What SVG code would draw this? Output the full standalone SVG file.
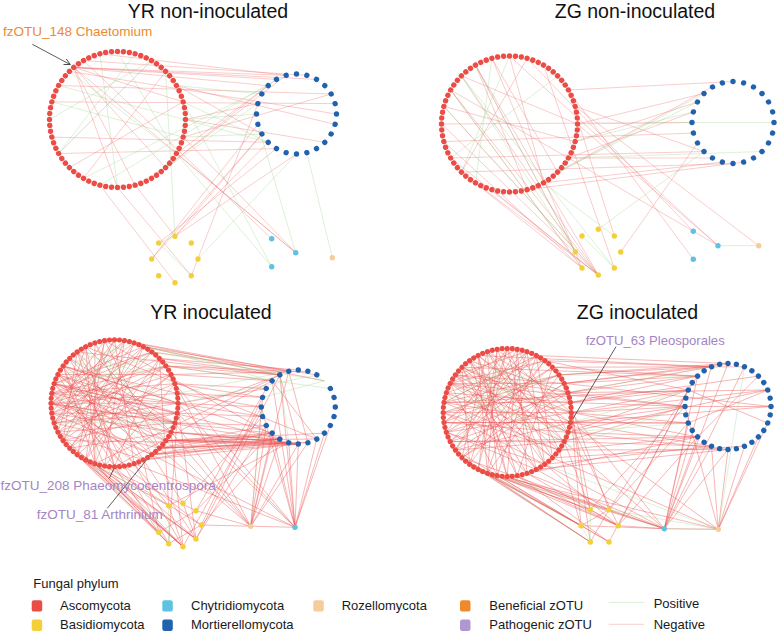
<svg xmlns="http://www.w3.org/2000/svg" xmlns:xlink="http://www.w3.org/1999/xlink" width="777" height="633" viewBox="0 0 777 633">
<style>
text{font-family:"Liberation Sans",Arial,Helvetica,sans-serif}
.title{font-size:19.5px;fill:#111;text-anchor:middle}
.lab{font-size:13.5px}
.leg{font-size:13px;fill:#1a1a1a}
.neg path{stroke:#EE6464;stroke-width:.65;stroke-opacity:.5;fill:none}
.pos path{stroke:#8CCB7A;stroke-width:.65;stroke-opacity:.45;fill:none}
.dense .neg path{stroke:#EC5050;stroke-opacity:.6;stroke-width:.7}
.lead path{stroke:#333;stroke-width:.8;fill:none}
.asc{fill:#EC4C46}.mor{fill:#2262AD}.bas{fill:#F3D03A}.chy{fill:#5CC3E1}.roz{fill:#F5CD9B}.ben{fill:#EF8A2C}.pat{fill:#AE98CF}
</style>
<defs>
<circle id="d1" cx="68" cy="0" r="2.7"/>
<circle id="d3" cx="63.5" cy="0" r="2.6"/>
<circle id="d4" cx="64" cy="0" r="2.6"/>
<circle id="b1" cx="40" cy="0" r="2.7"/>
<circle id="b2" cx="41" cy="0" r="2.7"/>
<circle id="b3" cx="37" cy="0" r="2.7"/>
<circle id="b4" cx="43" cy="0" r="2.7"/>
<marker id="ah" viewBox="0 0 8 8" refX="7" refY="4" markerWidth="7" markerHeight="7" orient="auto" markerUnits="userSpaceOnUse"><path d="M0 0.5L7 4L0 7.5" fill="none" stroke="#444" stroke-width="1"/></marker>
</defs>
<rect width="777" height="633" fill="#fff"/>

<g id="titles">
<text class="title" x="208" y="17.7">YR non-inoculated</text>
<text class="title" x="635" y="17.7">ZG non-inoculated</text>
<text class="title" x="211" y="319">YR inoculated</text>
<text class="title" x="637.5" y="319">ZG inoculated</text>
</g>

<g id="connectors">
<g id="edges1">
<g class="neg">
<path d="M73.8 67.4L276.5 79.4"/><path d="M73.8 67.4L286.1 75.4"/><path d="M73.8 67.4L268.2 85.7"/><path d="M73.8 67.4L316.5 79.4"/><path d="M73.8 67.4L295.7 252.7"/><path d="M73.8 67.4L135.1 185.2"/><path d="M73.8 67.4L165.6 167.6"/><path d="M73.8 67.4L183.2 101.9"/><path d="M73.8 67.4L117.5 187.5"/>
<path d="M69.4 71.4L336.5 114"/><path d="M58.6 85.5L331.1 94"/><path d="M51.8 101.9L335.1 103.6"/><path d="M58.6 153.5L276.5 148.6"/><path d="M51.8 137.1L268.2 142.3"/><path d="M83.5 60.6L306.9 75.4"/><path d="M99.9 53.8L286.1 75.4"/>
<path d="M151.5 60.6L58.6 153.5"/><path d="M165.6 71.4L83.5 178.4"/><path d="M183.2 101.9L69.4 167.6"/><path d="M176.4 85.5L261.9 134"/><path d="M185.5 119.5L257.9 103.6"/><path d="M176.4 153.5L276.5 79.4"/><path d="M165.6 167.6L268.2 85.7"/><path d="M151.5 178.4L286.1 75.4"/>
<path d="M268.2 142.3L175 236.3"/><path d="M261.9 134L175 236.3"/><path d="M257.9 124.4L151.7 259"/><path d="M261.9 134L151.7 259"/><path d="M191.3 275.7L257.9 103.6"/><path d="M117.5 187.5L191.3 275.7"/><path d="M135.1 185.2L175 236.3"/><path d="M83.5 60.6L271.7 238.7"/><path d="M183.2 137.1L295.7 252.7"/><path d="M176.4 153.5L295.7 252.7"/><path d="M175 236.3L296.5 154"/><path d="M158.7 243L276.5 148.6"/><path d="M99.9 185.2L175 282.7"/><path d="M183.2 137.1L331.1 94"/><path d="M185.5 119.5L324.8 142.3"/><path d="M176.4 85.5L335.1 124.4"/>
</g>
<g class="pos">
<path d="M99.9 53.8L117.5 187.5"/><path d="M117.5 51.5L176.4 153.5"/><path d="M135.1 53.8L58.6 153.5"/><path d="M69.4 71.4L176.4 153.5"/><path d="M51.8 101.9L183.2 137.1"/><path d="M165.6 71.4L175 236.3"/><path d="M185.5 119.5L256.5 114"/><path d="M183.2 137.1L261.9 134"/><path d="M176.4 153.5L271.7 266.7"/><path d="M198 259L296.5 154"/><path d="M306.9 152.6L332.3 257.7"/><path d="M158.7 243L191.3 275.7"/><path d="M175 236.3L158.7 243"/><path d="M151.5 178.4L257.9 103.6"/><path d="M83.5 178.4L268.2 85.7"/><path d="M58.6 85.5L268.2 142.3"/><path d="M183.2 101.9L268.2 142.3"/><path d="M99.9 185.2L276.5 79.4"/><path d="M176.4 85.5L261.9 94"/><path d="M257.9 124.4L295.7 252.7"/><path d="M183.2 101.9L271.7 266.7"/><path d="M49.5 119.5L151.5 60.6"/>
</g>
</g>

<g id="edges2">
<g class="neg">
<path d="M475.5 65.1L598.3 275"/><path d="M461.4 75.9L598.3 275"/><path d="M450.6 90L598.3 275"/><path d="M443.8 106.4L598.3 275"/><path d="M441.5 124L598.3 275"/><path d="M443.8 141.6L582 268"/><path d="M450.6 158L598.3 275"/><path d="M461.4 172.1L582 268"/><path d="M475.5 182.9L598.3 275"/><path d="M491.9 189.7L598.3 275"/><path d="M450.6 90L582 268"/><path d="M475.5 65.1L575.3 252"/><path d="M491.9 58.3L582 268"/>
<path d="M568.4 90L733 81.5"/><path d="M577.5 124L704 93.5"/><path d="M575.2 141.6L697.5 102"/><path d="M568.4 158L693.4 111.9"/><path d="M557.6 172.1L712.5 87"/><path d="M543.5 182.9L722.4 162.1"/><path d="M575.2 106.4L704 151.5"/><path d="M568.4 158L712.5 158"/><path d="M527.1 189.7L743.6 162.1"/><path d="M443.8 141.6L693.4 133.1"/><path d="M450.6 158L704 151.5"/><path d="M461.4 172.1L733 163.5"/><path d="M441.5 124L692 122.5"/>
<path d="M509.5 56L543.5 182.9"/><path d="M527.1 58.3L461.4 172.1"/><path d="M491.9 58.3L557.6 172.1"/><path d="M443.8 106.4L575.2 141.6"/><path d="M450.6 90L568.4 158"/><path d="M475.5 65.1L527.1 189.7"/><path d="M461.4 75.9L577.5 124"/>
<path d="M509.5 56L718 245.7"/><path d="M575.2 106.4L758.7 245.7"/><path d="M577.5 124L718 245.7"/><path d="M568.4 158L718 245.7"/><path d="M527.1 58.3L693.3 231.3"/><path d="M557.6 75.9L693.3 259.3"/><path d="M697.5 143L620.7 252"/><path d="M543.5 65.1L614.3 268"/><path d="M568.4 90L614.3 236"/>
</g>
<g class="pos">
<path d="M475.5 65.1L575.3 252"/><path d="M461.4 75.9L614.3 268"/><path d="M443.8 106.4L598.3 275"/><path d="M450.6 90L582 268"/><path d="M491.9 58.3L475.5 182.9"/><path d="M509.5 56L461.4 172.1"/><path d="M557.6 75.9L450.6 158"/><path d="M577.5 124L692 122.5"/><path d="M575.2 141.6L693.4 111.9"/><path d="M557.6 172.1L697.5 102"/><path d="M527.1 189.7L704 93.5"/><path d="M718 245.7L758.7 245.7"/><path d="M704 151.5L598.3 229.3"/><path d="M582 236L614.3 268"/><path d="M692 122.5L774 122.5"/><path d="M543.5 182.9L614.3 236"/><path d="M568.4 158L762 151.5"/><path d="M461.4 75.9L575.3 252"/>
</g>
</g>

<g id="edges3" class="dense">
<g class="neg">
<path d="M51 403.3L178 403.3"/><path d="M51 403.3L171.1 432.1"/><path d="M51 403.3L165.9 366"/><path d="M51.8 393.4L174.9 422.9"/><path d="M51.8 393.4L174.9 383.7"/><path d="M54.1 383.7L165.9 440.6"/><path d="M54.1 383.7L178 403.3"/><path d="M54.1 383.7L151.8 351.9"/><path d="M57.9 374.5L177.2 413.2"/><path d="M57.9 374.5L151.8 454.7"/><path d="M57.9 374.5L171.1 374.5"/><path d="M63.1 366L171.1 432.1"/><path d="M63.1 366L134.1 463.7"/><path d="M63.1 366L177.2 393.4"/><path d="M51.8 413.2L171.1 374.5"/><path d="M51.8 413.2L177.2 413.2"/><path d="M51.8 413.2L159.4 358.4"/><path d="M54.1 422.9L143.3 346.7"/><path d="M54.1 422.9L178 403.3"/><path d="M54.1 422.9L159.4 448.2"/><path d="M57.9 432.1L151.8 351.9"/><path d="M57.9 432.1L174.9 383.7"/><path d="M57.9 432.1L174.9 422.9"/><path d="M63.1 440.6L165.9 366"/><path d="M63.1 440.6L134.1 342.9"/><path d="M63.1 440.6L177.2 413.2"/><path d="M69.6 448.2L143.3 346.7"/><path d="M69.6 448.2L171.1 374.5"/><path d="M69.6 358.4L159.4 448.2"/><path d="M69.6 358.4L174.9 422.9"/><path d="M69.6 358.4L124.4 466"/><path d="M77.2 351.9L165.9 440.6"/><path d="M77.2 351.9L143.3 459.9"/><path d="M85.7 346.7L171.1 432.1"/><path d="M85.7 346.7L114.5 466.8"/><path d="M94.9 342.9L151.8 454.7"/><path d="M94.9 342.9L94.9 463.7"/><path d="M104.6 340.6L159.4 448.2"/><path d="M104.6 340.6L77.2 454.7"/><path d="M114.5 339.8L134.1 463.7"/><path d="M114.5 339.8L63.1 440.6"/><path d="M124.4 340.6L104.6 466"/><path d="M124.4 340.6L54.1 422.9"/><path d="M134.1 342.9L85.7 459.9"/><path d="M134.1 342.9L51 403.3"/><path d="M143.3 346.7L94.9 463.7"/><path d="M143.3 346.7L54.1 383.7"/><path d="M151.8 351.9L69.6 448.2"/><path d="M159.4 358.4L85.7 459.9"/><path d="M159.4 358.4L114.5 466.8"/><path d="M165.9 366L51.8 393.4"/><path d="M171.1 374.5L77.2 454.7"/><path d="M174.9 383.7L104.6 466"/><path d="M177.2 393.4L51 403.3"/><path d="M178 403.3L63.1 366"/><path d="M177.2 413.2L54.1 422.9"/><path d="M174.9 422.9L54.1 383.7"/><path d="M171.1 432.1L69.6 448.2"/><path d="M165.9 440.6L51 403.3"/><path d="M159.4 448.2L57.9 374.5"/><path d="M151.8 454.7L51.8 413.2"/><path d="M143.3 459.9L57.9 432.1"/><path d="M134.1 463.7L54.1 383.7"/><path d="M124.4 466L51.8 393.4"/><path d="M114.5 466.8L77.2 351.9"/><path d="M104.6 466L63.1 366"/><path d="M94.9 463.7L85.7 346.7"/><path d="M85.7 459.9L104.6 340.6"/><path d="M77.2 454.7L124.4 340.6"/><path d="M54.1 383.7L124.4 466"/><path d="M51.8 393.4L143.3 459.9"/><path d="M51 403.3L151.8 454.7"/><path d="M57.9 374.5L114.5 466.8"/><path d="M63.1 366L94.9 463.7"/><path d="M54.1 422.9L114.5 339.8"/><path d="M51.8 413.2L104.6 340.6"/><path d="M57.9 432.1L85.7 346.7"/><path d="M63.1 440.6L77.2 351.9"/><path d="M51 403.3L124.4 340.6"/><path d="M51.8 393.4L151.8 351.9"/><path d="M51.8 413.2L171.1 432.1"/><path d="M51.8 393.4L178 403.3"/><path d="M57.9 374.5L174.9 422.9"/><path d="M54.1 422.9L165.9 366"/><path d="M51 403.3L174.9 422.9"/><path d="M54.1 383.7L177.2 413.2"/>
<path d="M165.9 440.6L298.3 444"/><path d="M165.9 440.6L288.7 442.7"/><path d="M165.9 440.6L279.8 439"/><path d="M165.9 440.6L272.1 433.2"/><path d="M165.9 440.6L307.9 442.7"/><path d="M165.9 440.6L316.8 439"/><path d="M165.9 440.6L324.5 433.2"/><path d="M159.4 448.2L298.3 444"/><path d="M159.4 448.2L288.7 442.7"/><path d="M159.4 448.2L279.8 439"/><path d="M159.4 448.2L307.9 442.7"/><path d="M159.4 448.2L272.1 433.2"/><path d="M159.4 448.2L266.3 425.5"/><path d="M151.8 454.7L288.7 442.7"/><path d="M151.8 454.7L279.8 439"/><path d="M151.8 454.7L298.3 444"/><path d="M151.8 454.7L272.1 433.2"/><path d="M171.1 432.1L279.8 439"/><path d="M171.1 432.1L288.7 442.7"/><path d="M171.1 432.1L298.3 444"/><path d="M174.9 422.9L272.1 433.2"/><path d="M174.9 422.9L266.3 425.5"/><path d="M143.3 459.9L298.3 444"/><path d="M143.3 459.9L279.8 439"/><path d="M165.9 366L279.8 375"/><path d="M165.9 366L288.7 371.3"/><path d="M165.9 366L272.1 380.8"/><path d="M159.4 358.4L279.8 375"/><path d="M159.4 358.4L298.3 370"/><path d="M151.8 351.9L288.7 371.3"/><path d="M143.3 346.7L279.8 375"/><path d="M171.1 374.5L272.1 380.8"/><path d="M171.1 374.5L307.9 371.3"/><path d="M174.9 383.7L266.3 388.5"/><path d="M174.9 383.7L262.6 397.4"/><path d="M177.2 393.4L262.6 397.4"/><path d="M177.2 393.4L261.3 407"/><path d="M178 403.3L261.3 407"/><path d="M178 403.3L262.6 416.6"/><path d="M178 403.3L266.3 388.5"/><path d="M177.2 413.2L262.6 416.6"/><path d="M177.2 413.2L279.8 375"/><path d="M54.1 383.7L279.8 439"/><path d="M51 403.3L288.7 442.7"/><path d="M63.1 366L272.1 433.2"/><path d="M63.1 440.6L298.3 444"/><path d="M77.2 351.9L279.8 375"/><path d="M85.7 346.7L316.8 439"/><path d="M104.6 340.6L279.8 439"/><path d="M124.4 340.6L288.7 371.3"/><path d="M114.5 466.8L272.1 380.8"/><path d="M94.9 463.7L279.8 375"/><path d="M143.3 346.7L316.8 375"/><path d="M134.1 342.9L324.5 380.8"/><path d="M279.8 375L298.3 444"/><path d="M288.7 371.3L307.9 442.7"/><path d="M272.1 380.8L316.8 439"/>
<path d="M94.9 463.7L168.7 543.7"/><path d="M94.9 463.7L183 546.7"/><path d="M94.9 463.7L196 539"/><path d="M94.9 463.7L158.7 532.3"/><path d="M85.7 459.9L183 546.7"/><path d="M85.7 459.9L168.7 543.7"/><path d="M85.7 459.9L168.7 505.7"/><path d="M77.2 454.7L183 546.7"/><path d="M77.2 454.7L196 539"/><path d="M77.2 454.7L158.7 532.3"/><path d="M69.6 448.2L168.7 543.7"/><path d="M69.6 448.2L183 546.7"/><path d="M104.6 466L183 546.7"/><path d="M104.6 466L201.3 525"/><path d="M104.6 466L196 510.7"/><path d="M114.5 466.8L196 539"/><path d="M114.5 466.8L158.7 532.3"/><path d="M124.4 466L168.7 543.7"/><path d="M124.4 466L201.3 525"/><path d="M134.1 463.7L183 546.7"/><path d="M134.1 463.7L168.7 505.7"/><path d="M63.1 440.6L196 539"/><path d="M57.9 432.1L183 546.7"/><path d="M143.3 459.9L158.7 532.3"/><path d="M143.3 459.9L196 539"/><path d="M151.8 454.7L183 503.3"/><path d="M171.1 432.1L183 546.7"/><path d="M178 403.3L168.7 543.7"/><path d="M174.9 383.7L196 539"/><path d="M159.4 358.4L168.7 505.7"/>
<path d="M272.1 433.2L196 510.7"/><path d="M279.8 439L201.3 525"/><path d="M266.3 425.5L196 539"/><path d="M262.6 416.6L183 503.3"/><path d="M261.3 407L183 546.7"/><path d="M288.7 442.7L168.7 505.7"/><path d="M298.3 444L250.7 526.3"/><path d="M279.8 439L250.7 526.3"/><path d="M272.1 433.2L250.7 526.3"/><path d="M307.9 442.7L250.7 526.3"/><path d="M266.3 425.5L250.7 526.3"/><path d="M262.6 397.4L250.7 526.3"/><path d="M316.8 439L295 527.3"/><path d="M324.5 433.2L295 527.3"/><path d="M298.3 444L295 527.3"/><path d="M330.3 425.5L295 527.3"/><path d="M288.7 442.7L295 527.3"/><path d="M272.1 433.2L295 527.3"/><path d="M272.1 380.8L295 527.3"/><path d="M261.3 407L295 527.3"/><path d="M262.6 397.4L201.3 525"/><path d="M266.3 388.5L196 510.7"/><path d="M279.8 375L196 539"/><path d="M279.8 375L295 527.3"/><path d="M288.7 371.3L250.7 526.3"/>
<path d="M174.9 422.9L250.7 526.3"/><path d="M165.9 440.6L250.7 526.3"/><path d="M178 403.3L295 527.3"/><path d="M174.9 383.7L295 527.3"/><path d="M165.9 366L250.7 526.3"/><path d="M177.2 413.2L295 527.3"/><path d="M151.8 454.7L295 527.3"/><path d="M171.1 432.1L250.7 526.3"/><path d="M159.4 448.2L250.7 526.3"/><path d="M134.1 463.7L295 527.3"/>
<path d="M168.7 505.7L183 546.7"/><path d="M183 503.3L196 539"/><path d="M158.7 532.3L196 510.7"/><path d="M168.7 543.7L201.3 525"/><path d="M196 510.7L250.7 526.3"/><path d="M201.3 525L295 527.3"/>
</g>
<g class="pos">
<path d="M54.1 383.7L165.9 366"/><path d="M63.1 366L134.1 342.9"/><path d="M51 403.3L151.8 351.9"/><path d="M77.2 351.9L174.9 383.7"/><path d="M54.1 422.9L174.9 422.9"/><path d="M94.9 342.9L165.9 440.6"/><path d="M114.5 339.8L94.9 463.7"/><path d="M63.1 440.6L114.5 339.8"/><path d="M57.9 374.5L159.4 358.4"/><path d="M69.6 358.4L178 403.3"/><path d="M51.8 393.4L159.4 448.2"/><path d="M143.3 346.7L279.8 375"/><path d="M151.8 351.9L324.5 380.8"/><path d="M177.2 393.4L288.7 371.3"/><path d="M178 403.3L316.8 375"/><path d="M165.9 366L330.3 388.5"/><path d="M262.6 397.4L324.5 380.8"/><path d="M168.7 505.7L168.7 543.7"/><path d="M85.7 459.9L168.7 505.7"/><path d="M114.5 466.8L168.7 543.7"/><path d="M261.3 407L250.7 526.3"/><path d="M279.8 375L288.7 442.7"/><path d="M134.1 342.9L272.1 380.8"/>
</g>
</g>

<g id="edges4" class="dense">
<g class="neg">
<path d="M443.2 412.5L571.2 412.5"/><path d="M443.2 412.5L568.1 392.7"/><path d="M443.2 412.5L559 450.1"/><path d="M444 402.5L570.4 422.5"/><path d="M444 402.5L559 374.9"/><path d="M446.3 392.7L564.2 441.6"/><path d="M446.3 392.7L570.4 402.5"/><path d="M446.3 392.7L544.8 360.7"/><path d="M450.2 383.4L571.2 412.5"/><path d="M450.2 383.4L552.5 457.8"/><path d="M450.2 383.4L564.2 383.4"/><path d="M455.4 374.9L568.1 432.3"/><path d="M455.4 374.9L536.3 469.5"/><path d="M455.4 374.9L568.1 392.7"/><path d="M444 422.5L559 374.9"/><path d="M444 422.5L568.1 432.3"/><path d="M444 422.5L536.3 355.5"/><path d="M446.3 432.3L552.5 367.2"/><path d="M446.3 432.3L571.2 412.5"/><path d="M446.3 432.3L544.8 464.3"/><path d="M450.2 441.6L536.3 355.5"/><path d="M450.2 441.6L570.4 402.5"/><path d="M450.2 441.6L564.2 441.6"/><path d="M455.4 450.1L564.2 383.4"/><path d="M455.4 450.1L527 351.6"/><path d="M455.4 450.1L570.4 422.5"/><path d="M461.9 457.8L544.8 360.7"/><path d="M461.9 457.8L568.1 392.7"/><path d="M461.9 367.2L559 450.1"/><path d="M461.9 367.2L570.4 422.5"/><path d="M461.9 367.2L527 473.4"/><path d="M469.6 360.7L564.2 441.6"/><path d="M469.6 360.7L544.8 464.3"/><path d="M469.6 360.7L507.2 476.5"/><path d="M478.1 355.5L568.1 432.3"/><path d="M478.1 355.5L517.2 475.7"/><path d="M478.1 355.5L487.4 473.4"/><path d="M487.4 351.6L552.5 457.8"/><path d="M487.4 351.6L497.2 475.7"/><path d="M487.4 351.6L461.9 457.8"/><path d="M497.2 349.3L544.8 464.3"/><path d="M497.2 349.3L478.1 469.5"/><path d="M507.2 348.5L536.3 469.5"/><path d="M507.2 348.5L469.6 464.3"/><path d="M507.2 348.5L446.3 432.3"/><path d="M517.2 349.3L507.2 476.5"/><path d="M517.2 349.3L455.4 450.1"/><path d="M527 351.6L487.4 473.4"/><path d="M527 351.6L444 422.5"/><path d="M536.3 355.5L497.2 475.7"/><path d="M536.3 355.5L444 402.5"/><path d="M544.8 360.7L469.6 464.3"/><path d="M544.8 360.7L450.2 383.4"/><path d="M552.5 367.2L450.2 441.6"/><path d="M552.5 367.2L517.2 475.7"/><path d="M559 374.9L443.2 412.5"/><path d="M559 374.9L487.4 473.4"/><path d="M564.2 383.4L461.9 457.8"/><path d="M564.2 383.4L455.4 374.9"/><path d="M568.1 392.7L446.3 432.3"/><path d="M568.1 392.7L469.6 360.7"/><path d="M570.4 402.5L444 402.5"/><path d="M570.4 402.5L487.4 351.6"/><path d="M571.2 412.5L461.9 367.2"/><path d="M571.2 412.5L497.2 349.3"/><path d="M570.4 422.5L444 422.5"/><path d="M570.4 422.5L478.1 355.5"/><path d="M568.1 432.3L450.2 383.4"/><path d="M568.1 432.3L517.2 349.3"/><path d="M564.2 441.6L455.4 450.1"/><path d="M564.2 441.6L487.4 351.6"/><path d="M559 450.1L444 402.5"/><path d="M559 450.1L507.2 348.5"/><path d="M552.5 457.8L455.4 374.9"/><path d="M552.5 457.8L536.3 355.5"/><path d="M544.8 464.3L443.2 412.5"/><path d="M544.8 464.3L527 351.6"/><path d="M536.3 469.5L446.3 432.3"/><path d="M536.3 469.5L469.6 360.7"/><path d="M527 473.4L446.3 392.7"/><path d="M527 473.4L517.2 349.3"/><path d="M517.2 475.7L461.9 367.2"/><path d="M507.2 476.5L478.1 355.5"/><path d="M497.2 475.7L450.2 383.4"/><path d="M487.4 473.4L497.2 349.3"/><path d="M478.1 469.5L507.2 348.5"/><path d="M469.6 464.3L461.9 367.2"/><path d="M450.2 383.4L517.2 349.3"/><path d="M455.4 374.9L527 351.6"/>
<path d="M571.2 412.5L685 406.5"/><path d="M571.2 412.5L688.3 390"/><path d="M571.2 412.5L688.3 423"/><path d="M571.2 412.5L697.6 436.9"/><path d="M570.4 422.5L688.3 423"/><path d="M570.4 422.5L685 406.5"/><path d="M570.4 422.5L711.5 446.2"/><path d="M568.1 432.3L697.6 436.9"/><path d="M568.1 432.3L688.3 390"/><path d="M568.1 432.3L728 449.5"/><path d="M570.4 402.5L688.3 390"/><path d="M570.4 402.5L697.6 376.1"/><path d="M570.4 402.5L685 406.5"/><path d="M568.1 392.7L697.6 376.1"/><path d="M568.1 392.7L711.5 366.8"/><path d="M568.1 392.7L685 406.5"/><path d="M564.2 383.4L697.6 376.1"/><path d="M564.2 383.4L711.5 366.8"/><path d="M564.2 383.4L728 363.5"/><path d="M559 374.9L711.5 366.8"/><path d="M559 374.9L728 363.5"/><path d="M552.5 367.2L697.6 376.1"/><path d="M552.5 367.2L744.5 366.8"/><path d="M544.8 360.7L711.5 366.8"/><path d="M544.8 360.7L688.3 390"/><path d="M536.3 355.5L728 363.5"/><path d="M564.2 441.6L711.5 446.2"/><path d="M564.2 441.6L685 406.5"/><path d="M559 450.1L728 449.5"/><path d="M559 450.1L697.6 436.9"/><path d="M552.5 457.8L744.5 446.2"/><path d="M544.8 464.3L711.5 446.2"/><path d="M536.3 469.5L728 449.5"/><path d="M527 473.4L697.6 436.9"/><path d="M444 422.5L688.3 423"/><path d="M444 402.5L688.3 390"/><path d="M450.2 383.4L685 406.5"/><path d="M461.9 367.2L697.6 376.1"/><path d="M450.2 441.6L697.6 436.9"/><path d="M478.1 355.5L711.5 366.8"/><path d="M571.2 412.5L767.7 390"/><path d="M568.1 392.7L767.7 390"/><path d="M570.4 422.5L771 406.5"/><path d="M570.4 402.5L758.4 376.1"/><path d="M568.1 432.3L767.7 390"/><path d="M564.2 383.4L771 406.5"/><path d="M688.3 423L767.7 390"/><path d="M685 406.5L771 406.5"/><path d="M697.6 436.9L758.4 376.1"/><path d="M688.3 390L767.7 423"/>
<path d="M487.4 473.4L581 525.7"/><path d="M487.4 473.4L590.3 542"/><path d="M478.1 469.5L581 525.7"/><path d="M478.1 469.5L590.3 509.7"/><path d="M478.1 469.5L590.3 542"/><path d="M469.6 464.3L581 525.7"/><path d="M469.6 464.3L618.3 525.7"/><path d="M461.9 457.8L590.3 542"/><path d="M461.9 457.8L581 525.7"/><path d="M455.4 450.1L581 525.7"/><path d="M497.2 475.7L590.3 509.7"/><path d="M497.2 475.7L609 542"/><path d="M507.2 476.5L609 509.7"/><path d="M507.2 476.5L618.3 525.7"/><path d="M517.2 475.7L618.3 525.7"/><path d="M517.2 475.7L609 542"/><path d="M527 473.4L618.3 525.7"/><path d="M536.3 469.5L609 509.7"/><path d="M544.8 464.3L618.3 525.7"/><path d="M559 450.1L581 525.7"/><path d="M564.2 441.6L590.3 509.7"/><path d="M571.2 412.5L581 525.7"/><path d="M559 374.9L609 509.7"/><path d="M568.1 392.7L590.3 509.7"/><path d="M570.4 422.5L618.3 525.7"/><path d="M570.4 402.5L590.3 542"/>
<path d="M478.1 469.5L664.3 528.7"/><path d="M461.9 457.8L664.3 528.7"/><path d="M527 473.4L664.3 528.7"/><path d="M507.2 476.5L664.3 528.7"/><path d="M544.8 464.3L664.3 528.7"/><path d="M564.2 441.6L664.3 528.7"/><path d="M571.2 412.5L664.3 528.7"/><path d="M487.4 473.4L718.3 529.3"/><path d="M552.5 457.8L718.3 529.3"/><path d="M570.4 422.5L718.3 529.3"/>
<path d="M697.6 436.9L618.3 525.7"/><path d="M688.3 423L609 509.7"/><path d="M685 406.5L590.3 509.7"/><path d="M688.3 390L618.3 525.7"/><path d="M697.6 376.1L609 509.7"/><path d="M711.5 446.2L664.3 528.7"/><path d="M697.6 436.9L664.3 528.7"/><path d="M728 449.5L664.3 528.7"/><path d="M688.3 423L664.3 528.7"/><path d="M697.6 376.1L664.3 528.7"/><path d="M711.5 366.8L664.3 528.7"/><path d="M744.5 446.2L718.3 529.3"/><path d="M728 449.5L718.3 529.3"/><path d="M711.5 446.2L718.3 529.3"/><path d="M758.4 436.9L718.3 529.3"/><path d="M728 363.5L664.3 528.7"/><path d="M685 406.5L718.3 529.3"/><path d="M744.5 366.8L664.3 528.7"/><path d="M767.7 423L718.3 529.3"/><path d="M688.3 390L609 542"/>
<path d="M590.3 509.7L618.3 525.7"/><path d="M581 525.7L609 509.7"/><path d="M581 525.7L609 542"/><path d="M590.3 542L609 509.7"/><path d="M618.3 525.7L664.3 528.7"/><path d="M581 525.7L664.3 528.7"/><path d="M664.3 528.7L718.3 529.3"/>
</g>
<g class="pos">
<path d="M443.2 412.5L559 374.9"/><path d="M446.3 392.7L568.1 432.3"/><path d="M455.4 374.9L571.2 412.5"/><path d="M469.6 360.7L568.1 392.7"/><path d="M446.3 432.3L544.8 360.7"/><path d="M487.4 351.6L544.8 464.3"/><path d="M455.4 450.1L507.2 348.5"/><path d="M450.2 383.4L564.2 441.6"/><path d="M444 402.5L536.3 355.5"/><path d="M461.9 367.2L570.4 402.5"/><path d="M570.4 422.5L688.3 390"/><path d="M568.1 392.7L728 363.5"/><path d="M568.1 432.3L688.3 423"/><path d="M559 450.1L685 406.5"/><path d="M559 374.9L697.6 376.1"/><path d="M544.8 464.3L718.3 529.3"/><path d="M664.3 528.7L718.3 529.3"/><path d="M590.3 509.7L590.3 542"/><path d="M581 525.7L590.3 542"/><path d="M744.5 366.8L718.3 529.3"/><path d="M461.9 457.8L581 525.7"/><path d="M469.6 464.3L590.3 542"/><path d="M487.4 473.4L664.3 528.7"/><path d="M609 509.7L718.3 529.3"/>
</g>
</g>

<g id="leaders" class="lead">
<path d="M32.3 44.3L70.3 64.6" stroke="#444" marker-end="url(#ah)"/>
<path d="M109.3 478.3L114.3 467.7"/>
<path d="M107.3 508.3L154 450.7"/>
<path d="M616 346.7L572.7 419"/>
</g>
</g>

<g id="nodes">
<g id="panel1-asco" class="asc" transform="translate(117.5 119.5)">
<g id="n1a0" transform="rotate(0)"><use href="#d1"/></g><g id="n1a1" transform="rotate(5)"><use href="#d1"/></g><g id="n1a2" transform="rotate(10)"><use href="#d1"/></g><g id="n1a3" transform="rotate(15)"><use href="#d1"/></g><g id="n1a4" transform="rotate(20)"><use href="#d1"/></g><g id="n1a5" transform="rotate(25)"><use href="#d1"/></g><g id="n1a6" transform="rotate(30)"><use href="#d1"/></g><g id="n1a7" transform="rotate(35)"><use href="#d1"/></g><g id="n1a8" transform="rotate(40)"><use href="#d1"/></g><g id="n1a9" transform="rotate(45)"><use href="#d1"/></g><g id="n1a10" transform="rotate(50)"><use href="#d1"/></g><g id="n1a11" transform="rotate(55)"><use href="#d1"/></g><g id="n1a12" transform="rotate(60)"><use href="#d1"/></g><g id="n1a13" transform="rotate(65)"><use href="#d1"/></g><g id="n1a14" transform="rotate(70)"><use href="#d1"/></g><g id="n1a15" transform="rotate(75)"><use href="#d1"/></g><g id="n1a16" transform="rotate(80)"><use href="#d1"/></g><g id="n1a17" transform="rotate(85)"><use href="#d1"/></g><g id="n1a18" transform="rotate(90)"><use href="#d1"/></g><g id="n1a19" transform="rotate(95)"><use href="#d1"/></g><g id="n1a20" transform="rotate(100)"><use href="#d1"/></g><g id="n1a21" transform="rotate(105)"><use href="#d1"/></g><g id="n1a22" transform="rotate(110)"><use href="#d1"/></g><g id="n1a23" transform="rotate(115)"><use href="#d1"/></g><g id="n1a24" transform="rotate(120)"><use href="#d1"/></g><g id="n1a25" transform="rotate(125)"><use href="#d1"/></g><g id="n1a26" transform="rotate(130)"><use href="#d1"/></g><g id="n1a27" transform="rotate(135)"><use href="#d1"/></g><g id="n1a28" transform="rotate(140)"><use href="#d1"/></g><g id="n1a29" transform="rotate(145)"><use href="#d1"/></g><g id="n1a30" transform="rotate(150)"><use href="#d1"/></g><g id="n1a31" transform="rotate(155)"><use href="#d1"/></g><g id="n1a32" transform="rotate(160)"><use href="#d1"/></g><g id="n1a33" transform="rotate(165)"><use href="#d1"/></g><g id="n1a34" transform="rotate(170)"><use href="#d1"/></g><g id="n1a35" transform="rotate(175)"><use href="#d1"/></g><g id="n1a36" transform="rotate(180)"><use href="#d1"/></g><g id="n1a37" transform="rotate(185)"><use href="#d1"/></g><g id="n1a38" transform="rotate(190)"><use href="#d1"/></g><g id="n1a39" transform="rotate(195)"><use href="#d1"/></g><g id="n1a40" transform="rotate(200)"><use href="#d1"/></g><g id="n1a41" transform="rotate(205)"><use href="#d1"/></g><g id="n1a42" transform="rotate(210)"><use href="#d1"/></g><g id="n1a43" transform="rotate(215)"><use href="#d1"/></g><g id="n1a44" transform="rotate(220)"><use href="#d1"/></g><g id="n1a45" transform="rotate(225)"><use href="#d1"/></g><g id="n1a46" transform="rotate(230)"><use href="#d1"/></g><g id="n1a47" transform="rotate(235)"><use href="#d1"/></g><g id="n1a48" transform="rotate(240)"><use href="#d1"/></g><g id="n1a49" transform="rotate(245)"><use href="#d1"/></g><g id="n1a50" transform="rotate(250)"><use href="#d1"/></g><g id="n1a51" transform="rotate(255)"><use href="#d1"/></g><g id="n1a52" transform="rotate(260)"><use href="#d1"/></g><g id="n1a53" transform="rotate(265)"><use href="#d1"/></g><g id="n1a54" transform="rotate(270)"><use href="#d1"/></g><g id="n1a55" transform="rotate(275)"><use href="#d1"/></g><g id="n1a56" transform="rotate(280)"><use href="#d1"/></g><g id="n1a57" transform="rotate(285)"><use href="#d1"/></g><g id="n1a58" transform="rotate(290)"><use href="#d1"/></g><g id="n1a59" transform="rotate(295)"><use href="#d1"/></g><g id="n1a60" transform="rotate(300)"><use href="#d1"/></g><g id="n1a61" transform="rotate(305)"><use href="#d1"/></g><g id="n1a62" transform="rotate(310)"><use href="#d1"/></g><g id="n1a63" transform="rotate(315)"><use href="#d1"/></g><g id="n1a64" transform="rotate(320)"><use href="#d1"/></g><g id="n1a65" transform="rotate(325)"><use href="#d1"/></g><g id="n1a66" transform="rotate(330)"><use href="#d1"/></g><g id="n1a67" transform="rotate(335)"><use href="#d1"/></g><g id="n1a68" transform="rotate(340)"><use href="#d1"/></g><g id="n1a69" transform="rotate(345)"><use href="#d1"/></g><g id="n1a70" transform="rotate(350)"><use href="#d1"/></g><g id="n1a71" transform="rotate(355)"><use href="#d1"/></g>
</g>
<g id="panel1-mort" class="mor" transform="translate(296.5 114)">
<g id="n1m0" transform="rotate(0)"><use href="#b1"/></g><g id="n1m1" transform="rotate(15)"><use href="#b1"/></g><g id="n1m2" transform="rotate(30)"><use href="#b1"/></g><g id="n1m3" transform="rotate(45)"><use href="#b1"/></g><g id="n1m4" transform="rotate(60)"><use href="#b1"/></g><g id="n1m5" transform="rotate(75)"><use href="#b1"/></g><g id="n1m6" transform="rotate(90)"><use href="#b1"/></g><g id="n1m7" transform="rotate(105)"><use href="#b1"/></g><g id="n1m8" transform="rotate(120)"><use href="#b1"/></g><g id="n1m9" transform="rotate(135)"><use href="#b1"/></g><g id="n1m10" transform="rotate(150)"><use href="#b1"/></g><g id="n1m11" transform="rotate(165)"><use href="#b1"/></g><g id="n1m12" transform="rotate(180)"><use href="#b1"/></g><g id="n1m13" transform="rotate(195)"><use href="#b1"/></g><g id="n1m14" transform="rotate(210)"><use href="#b1"/></g><g id="n1m15" transform="rotate(225)"><use href="#b1"/></g><g id="n1m16" transform="rotate(240)"><use href="#b1"/></g><g id="n1m17" transform="rotate(255)"><use href="#b1"/></g><g id="n1m18" transform="rotate(270)"><use href="#b1"/></g><g id="n1m19" transform="rotate(285)"><use href="#b1"/></g><g id="n1m20" transform="rotate(300)"><use href="#b1"/></g><g id="n1m21" transform="rotate(315)"><use href="#b1"/></g><g id="n1m22" transform="rotate(330)"><use href="#b1"/></g><g id="n1m23" transform="rotate(345)"><use href="#b1"/></g>
</g>
<g id="panel1-other">
<g class="bas"><g id="n1y1"><circle cx="175" cy="236.3" r="2.7"/></g><g id="n1y2"><circle cx="158.7" cy="243" r="2.7"/></g><g id="n1y3"><circle cx="191.3" cy="243" r="2.7"/></g><g id="n1y4"><circle cx="151.7" cy="259" r="2.7"/></g><g id="n1y5"><circle cx="198" cy="259" r="2.7"/></g><g id="n1y6"><circle cx="158.7" cy="275.7" r="2.7"/></g><g id="n1y7"><circle cx="191.3" cy="275.7" r="2.7"/></g><g id="n1y8"><circle cx="175" cy="282.7" r="2.7"/></g></g>
<g class="chy"><g id="n1c1"><circle cx="271.7" cy="238.7" r="2.7"/></g><g id="n1c2"><circle cx="295.7" cy="252.7" r="2.7"/></g><g id="n1c3"><circle cx="271.7" cy="266.7" r="2.7"/></g></g>
<g class="roz"><g id="n1r1"><circle cx="332.3" cy="257.7" r="2.7"/></g></g>
</g>

<g id="panel2-asco" class="asc" transform="translate(509.5 124)">
<g id="n2a0" transform="rotate(0)"><use href="#d1"/></g><g id="n2a1" transform="rotate(5)"><use href="#d1"/></g><g id="n2a2" transform="rotate(10)"><use href="#d1"/></g><g id="n2a3" transform="rotate(15)"><use href="#d1"/></g><g id="n2a4" transform="rotate(20)"><use href="#d1"/></g><g id="n2a5" transform="rotate(25)"><use href="#d1"/></g><g id="n2a6" transform="rotate(30)"><use href="#d1"/></g><g id="n2a7" transform="rotate(35)"><use href="#d1"/></g><g id="n2a8" transform="rotate(40)"><use href="#d1"/></g><g id="n2a9" transform="rotate(45)"><use href="#d1"/></g><g id="n2a10" transform="rotate(50)"><use href="#d1"/></g><g id="n2a11" transform="rotate(55)"><use href="#d1"/></g><g id="n2a12" transform="rotate(60)"><use href="#d1"/></g><g id="n2a13" transform="rotate(65)"><use href="#d1"/></g><g id="n2a14" transform="rotate(70)"><use href="#d1"/></g><g id="n2a15" transform="rotate(75)"><use href="#d1"/></g><g id="n2a16" transform="rotate(80)"><use href="#d1"/></g><g id="n2a17" transform="rotate(85)"><use href="#d1"/></g><g id="n2a18" transform="rotate(90)"><use href="#d1"/></g><g id="n2a19" transform="rotate(95)"><use href="#d1"/></g><g id="n2a20" transform="rotate(100)"><use href="#d1"/></g><g id="n2a21" transform="rotate(105)"><use href="#d1"/></g><g id="n2a22" transform="rotate(110)"><use href="#d1"/></g><g id="n2a23" transform="rotate(115)"><use href="#d1"/></g><g id="n2a24" transform="rotate(120)"><use href="#d1"/></g><g id="n2a25" transform="rotate(125)"><use href="#d1"/></g><g id="n2a26" transform="rotate(130)"><use href="#d1"/></g><g id="n2a27" transform="rotate(135)"><use href="#d1"/></g><g id="n2a28" transform="rotate(140)"><use href="#d1"/></g><g id="n2a29" transform="rotate(145)"><use href="#d1"/></g><g id="n2a30" transform="rotate(150)"><use href="#d1"/></g><g id="n2a31" transform="rotate(155)"><use href="#d1"/></g><g id="n2a32" transform="rotate(160)"><use href="#d1"/></g><g id="n2a33" transform="rotate(165)"><use href="#d1"/></g><g id="n2a34" transform="rotate(170)"><use href="#d1"/></g><g id="n2a35" transform="rotate(175)"><use href="#d1"/></g><g id="n2a36" transform="rotate(180)"><use href="#d1"/></g><g id="n2a37" transform="rotate(185)"><use href="#d1"/></g><g id="n2a38" transform="rotate(190)"><use href="#d1"/></g><g id="n2a39" transform="rotate(195)"><use href="#d1"/></g><g id="n2a40" transform="rotate(200)"><use href="#d1"/></g><g id="n2a41" transform="rotate(205)"><use href="#d1"/></g><g id="n2a42" transform="rotate(210)"><use href="#d1"/></g><g id="n2a43" transform="rotate(215)"><use href="#d1"/></g><g id="n2a44" transform="rotate(220)"><use href="#d1"/></g><g id="n2a45" transform="rotate(225)"><use href="#d1"/></g><g id="n2a46" transform="rotate(230)"><use href="#d1"/></g><g id="n2a47" transform="rotate(235)"><use href="#d1"/></g><g id="n2a48" transform="rotate(240)"><use href="#d1"/></g><g id="n2a49" transform="rotate(245)"><use href="#d1"/></g><g id="n2a50" transform="rotate(250)"><use href="#d1"/></g><g id="n2a51" transform="rotate(255)"><use href="#d1"/></g><g id="n2a52" transform="rotate(260)"><use href="#d1"/></g><g id="n2a53" transform="rotate(265)"><use href="#d1"/></g><g id="n2a54" transform="rotate(270)"><use href="#d1"/></g><g id="n2a55" transform="rotate(275)"><use href="#d1"/></g><g id="n2a56" transform="rotate(280)"><use href="#d1"/></g><g id="n2a57" transform="rotate(285)"><use href="#d1"/></g><g id="n2a58" transform="rotate(290)"><use href="#d1"/></g><g id="n2a59" transform="rotate(295)"><use href="#d1"/></g><g id="n2a60" transform="rotate(300)"><use href="#d1"/></g><g id="n2a61" transform="rotate(305)"><use href="#d1"/></g><g id="n2a62" transform="rotate(310)"><use href="#d1"/></g><g id="n2a63" transform="rotate(315)"><use href="#d1"/></g><g id="n2a64" transform="rotate(320)"><use href="#d1"/></g><g id="n2a65" transform="rotate(325)"><use href="#d1"/></g><g id="n2a66" transform="rotate(330)"><use href="#d1"/></g><g id="n2a67" transform="rotate(335)"><use href="#d1"/></g><g id="n2a68" transform="rotate(340)"><use href="#d1"/></g><g id="n2a69" transform="rotate(345)"><use href="#d1"/></g><g id="n2a70" transform="rotate(350)"><use href="#d1"/></g><g id="n2a71" transform="rotate(355)"><use href="#d1"/></g>
</g>
<g id="panel2-mort" class="mor" transform="translate(733 122.5)">
<g id="n2m0" transform="rotate(0)"><use href="#b2"/></g><g id="n2m1" transform="rotate(15)"><use href="#b2"/></g><g id="n2m2" transform="rotate(30)"><use href="#b2"/></g><g id="n2m3" transform="rotate(45)"><use href="#b2"/></g><g id="n2m4" transform="rotate(60)"><use href="#b2"/></g><g id="n2m5" transform="rotate(75)"><use href="#b2"/></g><g id="n2m6" transform="rotate(90)"><use href="#b2"/></g><g id="n2m7" transform="rotate(105)"><use href="#b2"/></g><g id="n2m8" transform="rotate(120)"><use href="#b2"/></g><g id="n2m9" transform="rotate(135)"><use href="#b2"/></g><g id="n2m10" transform="rotate(150)"><use href="#b2"/></g><g id="n2m11" transform="rotate(165)"><use href="#b2"/></g><g id="n2m12" transform="rotate(180)"><use href="#b2"/></g><g id="n2m13" transform="rotate(195)"><use href="#b2"/></g><g id="n2m14" transform="rotate(210)"><use href="#b2"/></g><g id="n2m15" transform="rotate(225)"><use href="#b2"/></g><g id="n2m16" transform="rotate(240)"><use href="#b2"/></g><g id="n2m17" transform="rotate(255)"><use href="#b2"/></g><g id="n2m18" transform="rotate(270)"><use href="#b2"/></g><g id="n2m19" transform="rotate(285)"><use href="#b2"/></g><g id="n2m20" transform="rotate(300)"><use href="#b2"/></g><g id="n2m21" transform="rotate(315)"><use href="#b2"/></g><g id="n2m22" transform="rotate(330)"><use href="#b2"/></g><g id="n2m23" transform="rotate(345)"><use href="#b2"/></g>
</g>
<g id="panel2-other">
<g class="bas"><g id="n2y1"><circle cx="598.3" cy="229.3" r="2.7"/></g><g id="n2y2"><circle cx="582" cy="236" r="2.7"/></g><g id="n2y3"><circle cx="614.3" cy="236" r="2.7"/></g><g id="n2y4"><circle cx="575.3" cy="252" r="2.7"/></g><g id="n2y5"><circle cx="620.7" cy="252" r="2.7"/></g><g id="n2y6"><circle cx="582" cy="268" r="2.7"/></g><g id="n2y7"><circle cx="614.3" cy="268" r="2.7"/></g><g id="n2y8"><circle cx="598.3" cy="275" r="2.7"/></g></g>
<g class="chy"><g id="n2c1"><circle cx="693.3" cy="231.3" r="2.7"/></g><g id="n2c2"><circle cx="718" cy="245.7" r="2.7"/></g><g id="n2c3"><circle cx="693.3" cy="259.3" r="2.7"/></g></g>
<g class="roz"><g id="n2r1"><circle cx="758.7" cy="245.7" r="2.7"/></g></g>
</g>

<g id="panel3-asco" class="asc" transform="translate(114.5 403.3)">
<g id="n3a0" transform="rotate(0)"><use href="#d3"/></g><g id="n3a1" transform="rotate(4.5)"><use href="#d3"/></g><g id="n3a2" transform="rotate(9)"><use href="#d3"/></g><g id="n3a3" transform="rotate(13.5)"><use href="#d3"/></g><g id="n3a4" transform="rotate(18)"><use href="#d3"/></g><g id="n3a5" transform="rotate(22.5)"><use href="#d3"/></g><g id="n3a6" transform="rotate(27)"><use href="#d3"/></g><g id="n3a7" transform="rotate(31.5)"><use href="#d3"/></g><g id="n3a8" transform="rotate(36)"><use href="#d3"/></g><g id="n3a9" transform="rotate(40.5)"><use href="#d3"/></g><g id="n3a10" transform="rotate(45)"><use href="#d3"/></g><g id="n3a11" transform="rotate(49.5)"><use href="#d3"/></g><g id="n3a12" transform="rotate(54)"><use href="#d3"/></g><g id="n3a13" transform="rotate(58.5)"><use href="#d3"/></g><g id="n3a14" transform="rotate(63)"><use href="#d3"/></g><g id="n3a15" transform="rotate(67.5)"><use href="#d3"/></g><g id="n3a16" transform="rotate(72)"><use href="#d3"/></g><g id="n3a17" transform="rotate(76.5)"><use href="#d3"/></g><g id="n3a18" transform="rotate(81)"><use href="#d3"/></g><g id="n3a19" transform="rotate(85.5)"><use href="#d3"/></g><g id="n3a20" transform="rotate(90)"><use href="#d3"/></g><g id="n3a21" transform="rotate(94.5)"><use href="#d3"/></g><g id="n3a22" transform="rotate(99)"><use href="#d3"/></g><g id="n3a23" transform="rotate(103.5)"><use href="#d3"/></g><g id="n3a24" transform="rotate(108)"><use href="#d3"/></g><g id="n3a25" transform="rotate(112.5)"><use href="#d3"/></g><g id="n3a26" transform="rotate(117)"><use href="#d3"/></g><g id="n3a27" transform="rotate(121.5)"><use href="#d3"/></g><g id="n3a28" transform="rotate(126)"><use href="#d3"/></g><g id="n3a29" transform="rotate(130.5)"><use href="#d3"/></g><g id="n3a30" transform="rotate(135)"><use href="#d3"/></g><g id="n3a31" transform="rotate(139.5)"><use href="#d3"/></g><g id="n3a32" transform="rotate(144)"><use href="#d3"/></g><g id="n3a33" transform="rotate(148.5)"><use href="#d3"/></g><g id="n3a34" transform="rotate(153)"><use href="#d3"/></g><g id="n3a35" transform="rotate(157.5)"><use href="#d3"/></g><g id="n3a36" transform="rotate(162)"><use href="#d3"/></g><g id="n3a37" transform="rotate(166.5)"><use href="#d3"/></g><g id="n3a38" transform="rotate(171)"><use href="#d3"/></g><g id="n3a39" transform="rotate(175.5)"><use href="#d3"/></g><g id="n3a40" transform="rotate(180)"><use href="#d3"/></g><g id="n3a41" transform="rotate(184.5)"><use href="#d3"/></g><g id="n3a42" transform="rotate(189)"><use href="#d3"/></g><g id="n3a43" transform="rotate(193.5)"><use href="#d3"/></g><g id="n3a44" transform="rotate(198)"><use href="#d3"/></g><g id="n3a45" transform="rotate(202.5)"><use href="#d3"/></g><g id="n3a46" transform="rotate(207)"><use href="#d3"/></g><g id="n3a47" transform="rotate(211.5)"><use href="#d3"/></g><g id="n3a48" transform="rotate(216)"><use href="#d3"/></g><g id="n3a49" transform="rotate(220.5)"><use href="#d3"/></g><g id="n3a50" transform="rotate(225)"><use href="#d3"/></g><g id="n3a51" transform="rotate(229.5)"><use href="#d3"/></g><g id="n3a52" transform="rotate(234)"><use href="#d3"/></g><g id="n3a53" transform="rotate(238.5)"><use href="#d3"/></g><g id="n3a54" transform="rotate(243)"><use href="#d3"/></g><g id="n3a55" transform="rotate(247.5)"><use href="#d3"/></g><g id="n3a56" transform="rotate(252)"><use href="#d3"/></g><g id="n3a57" transform="rotate(256.5)"><use href="#d3"/></g><g id="n3a58" transform="rotate(261)"><use href="#d3"/></g><g id="n3a59" transform="rotate(265.5)"><use href="#d3"/></g><g id="n3a60" transform="rotate(270)"><use href="#d3"/></g><g id="n3a61" transform="rotate(274.5)"><use href="#d3"/></g><g id="n3a62" transform="rotate(279)"><use href="#d3"/></g><g id="n3a63" transform="rotate(283.5)"><use href="#d3"/></g><g id="n3a64" transform="rotate(288)"><use href="#d3"/></g><g id="n3a65" transform="rotate(292.5)"><use href="#d3"/></g><g id="n3a66" transform="rotate(297)"><use href="#d3"/></g><g id="n3a67" transform="rotate(301.5)"><use href="#d3"/></g><g id="n3a68" transform="rotate(306)"><use href="#d3"/></g><g id="n3a69" transform="rotate(310.5)"><use href="#d3"/></g><g id="n3a70" transform="rotate(315)"><use href="#d3"/></g><g id="n3a71" transform="rotate(319.5)"><use href="#d3"/></g><g id="n3a72" transform="rotate(324)"><use href="#d3"/></g><g id="n3a73" transform="rotate(328.5)"><use href="#d3"/></g><g id="n3a74" transform="rotate(333)"><use href="#d3"/></g><g id="n3a75" transform="rotate(337.5)"><use href="#d3"/></g><g id="n3a76" transform="rotate(342)"><use href="#d3"/></g><g id="n3a77" transform="rotate(346.5)"><use href="#d3"/></g><g id="n3a78" transform="rotate(351)"><use href="#d3"/></g><g id="n3a79" transform="rotate(355.5)"><use href="#d3"/></g>
</g>
<g id="panel3-mort" class="mor" transform="translate(298.3 407)">
<g id="n3m0" transform="rotate(0)"><use href="#b3"/></g><g id="n3m1" transform="rotate(15)"><use href="#b3"/></g><g id="n3m2" transform="rotate(30)"><use href="#b3"/></g><g id="n3m3" transform="rotate(45)"><use href="#b3"/></g><g id="n3m4" transform="rotate(60)"><use href="#b3"/></g><g id="n3m5" transform="rotate(75)"><use href="#b3"/></g><g id="n3m6" transform="rotate(90)"><use href="#b3"/></g><g id="n3m7" transform="rotate(105)"><use href="#b3"/></g><g id="n3m8" transform="rotate(120)"><use href="#b3"/></g><g id="n3m9" transform="rotate(135)"><use href="#b3"/></g><g id="n3m10" transform="rotate(150)"><use href="#b3"/></g><g id="n3m11" transform="rotate(165)"><use href="#b3"/></g><g id="n3m12" transform="rotate(180)"><use href="#b3"/></g><g id="n3m13" transform="rotate(195)"><use href="#b3"/></g><g id="n3m14" transform="rotate(210)"><use href="#b3"/></g><g id="n3m15" transform="rotate(225)"><use href="#b3"/></g><g id="n3m16" transform="rotate(240)"><use href="#b3"/></g><g id="n3m17" transform="rotate(255)"><use href="#b3"/></g><g id="n3m18" transform="rotate(270)"><use href="#b3"/></g><g id="n3m19" transform="rotate(285)"><use href="#b3"/></g><g id="n3m20" transform="rotate(300)"><use href="#b3"/></g><g id="n3m21" transform="rotate(330)"><use href="#b3"/></g><g id="n3m22" transform="rotate(345)"><use href="#b3"/></g>
</g>
<g id="panel3-other">
<g class="bas"><g id="n3y1"><circle cx="168.7" cy="505.7" r="2.7"/></g><g id="n3y2"><circle cx="183" cy="503.3" r="2.7"/></g><g id="n3y3"><circle cx="196" cy="510.7" r="2.7"/></g><g id="n3y4"><circle cx="201.3" cy="525" r="2.7"/></g><g id="n3y5"><circle cx="196" cy="539" r="2.7"/></g><g id="n3y6"><circle cx="183" cy="546.7" r="2.7"/></g><g id="n3y7"><circle cx="168.7" cy="543.7" r="2.7"/></g><g id="n3y8"><circle cx="158.7" cy="532.3" r="2.7"/></g></g>
<g class="roz"><g id="n3r1"><circle cx="250.7" cy="526.3" r="2.7"/></g></g>
<g class="chy"><g id="n3c1"><circle cx="295" cy="527.3" r="2.7"/></g></g>
</g>

<g id="panel4-asco" class="asc" transform="translate(507.2 412.5)">
<g id="n4a0" transform="rotate(0)"><use href="#d4"/></g><g id="n4a1" transform="rotate(4.5)"><use href="#d4"/></g><g id="n4a2" transform="rotate(9)"><use href="#d4"/></g><g id="n4a3" transform="rotate(13.5)"><use href="#d4"/></g><g id="n4a4" transform="rotate(18)"><use href="#d4"/></g><g id="n4a5" transform="rotate(22.5)"><use href="#d4"/></g><g id="n4a6" transform="rotate(27)"><use href="#d4"/></g><g id="n4a7" transform="rotate(31.5)"><use href="#d4"/></g><g id="n4a8" transform="rotate(36)"><use href="#d4"/></g><g id="n4a9" transform="rotate(40.5)"><use href="#d4"/></g><g id="n4a10" transform="rotate(45)"><use href="#d4"/></g><g id="n4a11" transform="rotate(49.5)"><use href="#d4"/></g><g id="n4a12" transform="rotate(54)"><use href="#d4"/></g><g id="n4a13" transform="rotate(58.5)"><use href="#d4"/></g><g id="n4a14" transform="rotate(63)"><use href="#d4"/></g><g id="n4a15" transform="rotate(67.5)"><use href="#d4"/></g><g id="n4a16" transform="rotate(72)"><use href="#d4"/></g><g id="n4a17" transform="rotate(76.5)"><use href="#d4"/></g><g id="n4a18" transform="rotate(81)"><use href="#d4"/></g><g id="n4a19" transform="rotate(85.5)"><use href="#d4"/></g><g id="n4a20" transform="rotate(90)"><use href="#d4"/></g><g id="n4a21" transform="rotate(94.5)"><use href="#d4"/></g><g id="n4a22" transform="rotate(99)"><use href="#d4"/></g><g id="n4a23" transform="rotate(103.5)"><use href="#d4"/></g><g id="n4a24" transform="rotate(108)"><use href="#d4"/></g><g id="n4a25" transform="rotate(112.5)"><use href="#d4"/></g><g id="n4a26" transform="rotate(117)"><use href="#d4"/></g><g id="n4a27" transform="rotate(121.5)"><use href="#d4"/></g><g id="n4a28" transform="rotate(126)"><use href="#d4"/></g><g id="n4a29" transform="rotate(130.5)"><use href="#d4"/></g><g id="n4a30" transform="rotate(135)"><use href="#d4"/></g><g id="n4a31" transform="rotate(139.5)"><use href="#d4"/></g><g id="n4a32" transform="rotate(144)"><use href="#d4"/></g><g id="n4a33" transform="rotate(148.5)"><use href="#d4"/></g><g id="n4a34" transform="rotate(153)"><use href="#d4"/></g><g id="n4a35" transform="rotate(157.5)"><use href="#d4"/></g><g id="n4a36" transform="rotate(162)"><use href="#d4"/></g><g id="n4a37" transform="rotate(166.5)"><use href="#d4"/></g><g id="n4a38" transform="rotate(171)"><use href="#d4"/></g><g id="n4a39" transform="rotate(175.5)"><use href="#d4"/></g><g id="n4a40" transform="rotate(180)"><use href="#d4"/></g><g id="n4a41" transform="rotate(184.5)"><use href="#d4"/></g><g id="n4a42" transform="rotate(189)"><use href="#d4"/></g><g id="n4a43" transform="rotate(193.5)"><use href="#d4"/></g><g id="n4a44" transform="rotate(198)"><use href="#d4"/></g><g id="n4a45" transform="rotate(202.5)"><use href="#d4"/></g><g id="n4a46" transform="rotate(207)"><use href="#d4"/></g><g id="n4a47" transform="rotate(211.5)"><use href="#d4"/></g><g id="n4a48" transform="rotate(216)"><use href="#d4"/></g><g id="n4a49" transform="rotate(220.5)"><use href="#d4"/></g><g id="n4a50" transform="rotate(225)"><use href="#d4"/></g><g id="n4a51" transform="rotate(229.5)"><use href="#d4"/></g><g id="n4a52" transform="rotate(234)"><use href="#d4"/></g><g id="n4a53" transform="rotate(238.5)"><use href="#d4"/></g><g id="n4a54" transform="rotate(243)"><use href="#d4"/></g><g id="n4a55" transform="rotate(247.5)"><use href="#d4"/></g><g id="n4a56" transform="rotate(252)"><use href="#d4"/></g><g id="n4a57" transform="rotate(256.5)"><use href="#d4"/></g><g id="n4a58" transform="rotate(261)"><use href="#d4"/></g><g id="n4a59" transform="rotate(265.5)"><use href="#d4"/></g><g id="n4a60" transform="rotate(270)"><use href="#d4"/></g><g id="n4a61" transform="rotate(274.5)"><use href="#d4"/></g><g id="n4a62" transform="rotate(279)"><use href="#d4"/></g><g id="n4a63" transform="rotate(283.5)"><use href="#d4"/></g><g id="n4a64" transform="rotate(288)"><use href="#d4"/></g><g id="n4a65" transform="rotate(292.5)"><use href="#d4"/></g><g id="n4a66" transform="rotate(297)"><use href="#d4"/></g><g id="n4a67" transform="rotate(301.5)"><use href="#d4"/></g><g id="n4a68" transform="rotate(306)"><use href="#d4"/></g><g id="n4a69" transform="rotate(310.5)"><use href="#d4"/></g><g id="n4a70" transform="rotate(315)"><use href="#d4"/></g><g id="n4a71" transform="rotate(319.5)"><use href="#d4"/></g><g id="n4a72" transform="rotate(324)"><use href="#d4"/></g><g id="n4a73" transform="rotate(328.5)"><use href="#d4"/></g><g id="n4a74" transform="rotate(333)"><use href="#d4"/></g><g id="n4a75" transform="rotate(337.5)"><use href="#d4"/></g><g id="n4a76" transform="rotate(342)"><use href="#d4"/></g><g id="n4a77" transform="rotate(346.5)"><use href="#d4"/></g><g id="n4a78" transform="rotate(351)"><use href="#d4"/></g><g id="n4a79" transform="rotate(355.5)"><use href="#d4"/></g>
</g>
<g id="panel4-mort" class="mor" transform="translate(728 406.5)">
<g id="n4m0" transform="rotate(0)"><use href="#b4"/></g><g id="n4m1" transform="rotate(11.25)"><use href="#b4"/></g><g id="n4m2" transform="rotate(22.5)"><use href="#b4"/></g><g id="n4m3" transform="rotate(33.75)"><use href="#b4"/></g><g id="n4m4" transform="rotate(45)"><use href="#b4"/></g><g id="n4m5" transform="rotate(56.25)"><use href="#b4"/></g><g id="n4m6" transform="rotate(67.5)"><use href="#b4"/></g><g id="n4m7" transform="rotate(78.75)"><use href="#b4"/></g><g id="n4m8" transform="rotate(90)"><use href="#b4"/></g><g id="n4m9" transform="rotate(101.25)"><use href="#b4"/></g><g id="n4m10" transform="rotate(112.5)"><use href="#b4"/></g><g id="n4m11" transform="rotate(123.75)"><use href="#b4"/></g><g id="n4m12" transform="rotate(135)"><use href="#b4"/></g><g id="n4m13" transform="rotate(146.25)"><use href="#b4"/></g><g id="n4m14" transform="rotate(157.5)"><use href="#b4"/></g><g id="n4m15" transform="rotate(168.75)"><use href="#b4"/></g><g id="n4m16" transform="rotate(180)"><use href="#b4"/></g><g id="n4m17" transform="rotate(191.25)"><use href="#b4"/></g><g id="n4m18" transform="rotate(202.5)"><use href="#b4"/></g><g id="n4m19" transform="rotate(213.75)"><use href="#b4"/></g><g id="n4m20" transform="rotate(225)"><use href="#b4"/></g><g id="n4m21" transform="rotate(236.25)"><use href="#b4"/></g><g id="n4m22" transform="rotate(247.5)"><use href="#b4"/></g><g id="n4m23" transform="rotate(258.75)"><use href="#b4"/></g><g id="n4m24" transform="rotate(270)"><use href="#b4"/></g><g id="n4m25" transform="rotate(281.25)"><use href="#b4"/></g><g id="n4m26" transform="rotate(292.5)"><use href="#b4"/></g><g id="n4m27" transform="rotate(303.75)"><use href="#b4"/></g><g id="n4m28" transform="rotate(315)"><use href="#b4"/></g><g id="n4m29" transform="rotate(326.25)"><use href="#b4"/></g><g id="n4m30" transform="rotate(337.5)"><use href="#b4"/></g><g id="n4m31" transform="rotate(348.75)"><use href="#b4"/></g>
</g>
<g id="panel4-other">
<g class="bas"><g id="n4y1"><circle cx="590.3" cy="509.7" r="2.7"/></g><g id="n4y2"><circle cx="609" cy="509.7" r="2.7"/></g><g id="n4y3"><circle cx="581" cy="525.7" r="2.7"/></g><g id="n4y4"><circle cx="618.3" cy="525.7" r="2.7"/></g><g id="n4y5"><circle cx="590.3" cy="542" r="2.7"/></g><g id="n4y6"><circle cx="609" cy="542" r="2.7"/></g></g>
<g class="chy"><g id="n4c1"><circle cx="664.3" cy="528.7" r="2.7"/></g></g>
<g class="roz"><g id="n4r1"><circle cx="718.3" cy="529.3" r="2.7"/></g></g>
</g>
</g>

<g id="labels">
<text class="lab" x="3" y="36" fill="#EF8A2C">fzOTU_148 Chaetomium</text>
<text class="lab" x="0.5" y="490" fill="#A584C4">fzOTU_208 Phaeomycocentrospora</text>
<text class="lab" x="36.7" y="519" fill="#A584C4">fzOTU_81 Arthrinium</text>
<text class="lab" x="585.7" y="344.5" fill="#A584C4" style="font-size:13.1px">fzOTU_63 Pleosporales</text>
</g>

<g id="legend">
<text class="leg" x="33.3" y="587.6">Fungal phylum</text>
<rect class="asc" x="31.7" y="600.3" width="10.5" height="11.3" rx="2.2"/>
<text class="leg" x="60" y="610">Ascomycota</text>
<rect class="bas" x="31.7" y="619.6" width="10.5" height="11.3" rx="2.2"/>
<text class="leg" x="60" y="629.3">Basidiomycota</text>
<rect class="chy" x="162.3" y="600.3" width="10.5" height="11.3" rx="2.2"/>
<text class="leg" x="191" y="610">Chytridiomycota</text>
<rect class="mor" x="162.3" y="619.6" width="10.5" height="11.3" rx="2.2"/>
<text class="leg" x="191" y="629.3">Mortierellomycota</text>
<rect class="roz" x="313.3" y="600.3" width="10.5" height="11.3" rx="2.2"/>
<text class="leg" x="341.7" y="610">Rozellomycota</text>
<rect class="ben" x="460" y="600.3" width="10.5" height="11.3" rx="2.2"/>
<text class="leg" x="489.3" y="610">Beneficial zOTU</text>
<rect class="pat" x="460" y="619.6" width="10.5" height="11.3" rx="2.2"/>
<text class="leg" x="489.3" y="629.3">Pathogenic zOTU</text>
<line x1="608.7" y1="602.3" x2="644.3" y2="602.3" stroke="#E2F1DB" stroke-width="1.2"/>
<text class="leg" x="653.7" y="607.6">Positive</text>
<line x1="608.7" y1="624.3" x2="644.3" y2="624.3" stroke="#FAD8D8" stroke-width="1.2"/>
<text class="leg" x="653.7" y="629.3">Negative</text>
</g>
</svg>
